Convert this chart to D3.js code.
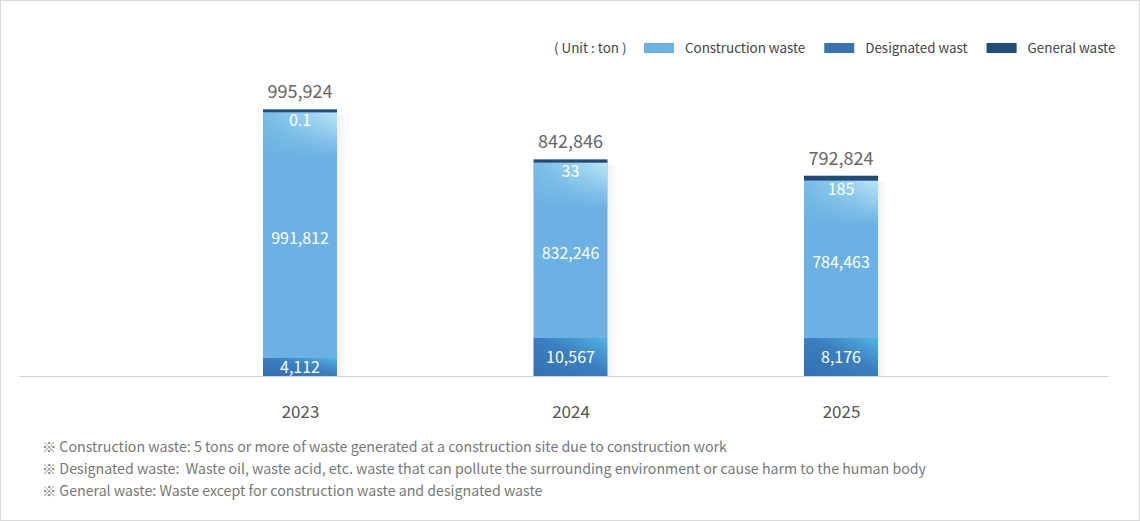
<!DOCTYPE html>
<html>
<head>
<meta charset="utf-8">
<script src="https://cdn.jsdelivr.net/npm/d3@7"></script>
<style>
  body { margin: 0; background: #fff; }
  svg { display: block; font-family: "Noto Sans CJK KR", "Noto Sans", sans-serif; }
  .notes text { white-space: pre; }
</style>
</head>
<body>
<script>
// data (tons)
var years = ["2023", "2024", "2025"];
var construction = [991812, 832246, 784463];
var designated = [4112, 10567, 8176];
var general = [0.1, 33, 185];
var totals = [995924, 842846, 792824];
var legendLabels = ["Construction waste", "Designated wast", "General waste"];
var unitLabel = "( Unit : ton )";
var notes = [
  "※ Construction waste: 5 tons or more of waste generated at a construction site due to construction work",
  "※ Designated waste:  Waste oil, waste acid, etc. waste that can pollute the surrounding environment or cause harm to the human body",
  "※ General waste: Waste except for construction waste and designated waste"
];

var W = 1140, H = 521;
var baseY = 376;
var barW = 74;
var colors = ["#6cb1e3", "#3874b4", "#1f4c7a"];
var fmt = d3.format(",");

var svg = d3.select("body").append("svg")
  .attr("width", W).attr("height", H);

// outer frame
svg.append("rect")
  .attr("x", 0.5).attr("y", 0.5)
  .attr("width", W - 1).attr("height", H - 1)
  .attr("fill", "#fff").attr("stroke", "#d9d9d9");

var defs = svg.append("defs");

// gradients
var gShadow = defs.append("linearGradient").attr("id", "shadow");
gShadow.append("stop").attr("offset", 0).attr("stop-color", "#000").attr("stop-opacity", 0.06);
gShadow.append("stop").attr("offset", 1).attr("stop-color", "#000").attr("stop-opacity", 0);

var gLight = defs.append("linearGradient").attr("id", "light");
gLight.append("stop").attr("offset", 0).attr("stop-color", "#78bbe7");
gLight.append("stop").attr("offset", 0.4).attr("stop-color", "#8ccbed");
gLight.append("stop").attr("offset", 1).attr("stop-color", "#bce6f6");

var gFade = defs.append("linearGradient").attr("id", "fade")
  .attr("x1", 0).attr("y1", 0).attr("x2", 0).attr("y2", 1);
gFade.append("stop").attr("offset", 0).attr("stop-color", "#fff");
gFade.append("stop").attr("offset", 1).attr("stop-color", "#000");

var gDes = defs.append("linearGradient").attr("id", "des")
  .attr("x1", 0).attr("y1", 1).attr("x2", 1).attr("y2", 0);
gDes.append("stop").attr("offset", 0).attr("stop-color", "#3470b0");
gDes.append("stop").attr("offset", 0.55).attr("stop-color", "#3b7fc0");
gDes.append("stop").attr("offset", 1).attr("stop-color", "#52b3e2");

// scales
var x = d3.scalePoint().domain(years).range([300, 841]);
var y = d3.scaleLinear().domain([180000, 1000000]).range([baseY, 108]);
// small segments get a readable height
var dH = d3.scaleLinear().domain([4112, 8176]).range([18, 38]).clamp(true);
var gH = d3.scaleLinear().domain([0, 185]).range([3, 5]);

var data = years.map(function(yr, i) {
  var top = y(totals[i]);
  var gBottom = top + gH(general[i]);
  var dTop = baseY - dH(designated[i]);
  return {year: yr, c: construction[i], d: designated[i], g: general[i], total: totals[i],
          top: top, gBottom: gBottom, dTop: dTop, cx: x(yr)};
});

// baseline
svg.append("line")
  .attr("x1", 20).attr("x2", 1108)
  .attr("y1", baseY + 0.5).attr("y2", baseY + 0.5)
  .attr("stroke", "#cfcfcf");

var bars = svg.selectAll(".bar").data(data).enter()
  .append("g").attr("class", "bar");

// soft shadow right of each bar
bars.append("rect")
  .attr("x", function(d) { return d.cx + barW / 2; })
  .attr("y", function(d) { return d.top + 6; })
  .attr("width", 10)
  .attr("height", function(d) { return baseY - d.top - 6; })
  .attr("fill", "url(#shadow)");

// construction segment
bars.append("rect")
  .attr("x", function(d) { return d.cx - barW / 2; })
  .attr("y", function(d) { return d.gBottom; })
  .attr("width", barW)
  .attr("height", function(d) { return d.dTop - d.gBottom; })
  .attr("fill", colors[0]);

// light sheen at the top of construction segment
bars.each(function(d, i) {
  var m = defs.append("mask").attr("id", "m" + i);
  m.append("rect")
    .attr("x", d.cx - barW / 2).attr("y", d.gBottom)
    .attr("width", barW).attr("height", 45)
    .attr("fill", "url(#fade)");
  d3.select(this).append("rect")
    .attr("x", d.cx - barW / 2).attr("y", d.gBottom)
    .attr("width", barW).attr("height", 45)
    .attr("fill", "url(#light)")
    .attr("mask", "url(#m" + i + ")");
});

// designated segment
bars.append("rect")
  .attr("x", function(d) { return d.cx - barW / 2; })
  .attr("y", function(d) { return d.dTop; })
  .attr("width", barW)
  .attr("height", function(d) { return baseY - d.dTop; })
  .attr("fill", "url(#des)");

// general segment
bars.append("rect")
  .attr("x", function(d) { return d.cx - barW / 2; })
  .attr("y", function(d) { return d.top; })
  .attr("width", barW)
  .attr("height", function(d) { return d.gBottom - d.top; })
  .attr("fill", colors[2]);

// labels
bars.append("text")
  .attr("x", function(d) { return d.cx; })
  .attr("y", function(d) { return d.top - 11; })
  .attr("text-anchor", "middle")
  .attr("font-size", 18).attr("fill", "#666")
  .text(function(d) { return fmt(d.total); });

bars.append("text")
  .attr("x", function(d) { return d.cx; })
  .attr("y", function(d) { return d.gBottom + 14; })
  .attr("text-anchor", "middle")
  .attr("font-size", 16).attr("fill", "#fff")
  .text(function(d) { return fmt(d.g); });

bars.append("text")
  .attr("x", function(d) { return d.cx; })
  .attr("y", function(d) { return (d.gBottom + d.dTop) / 2 + 9; })
  .attr("text-anchor", "middle")
  .attr("font-size", 16).attr("fill", "#fff")
  .text(function(d) { return fmt(d.c); });

bars.append("text")
  .attr("x", function(d) { return d.cx; })
  .attr("y", function(d) { return (d.dTop + baseY) / 2 + 5.5; })
  .attr("text-anchor", "middle")
  .attr("font-size", 16).attr("fill", "#fff")
  .text(function(d) { return fmt(d.d); });

// x axis labels
var xAxis = d3.axisBottom(x).tickSize(0).tickPadding(0);
svg.append("g")
  .attr("transform", "translate(0,404)")
  .call(xAxis)
  .call(function(g) { g.select(".domain").remove(); })
  .selectAll("text")
  .attr("dy", "0.8em")
  .attr("font-family", "\"Noto Sans CJK KR\", sans-serif")
  .attr("font-size", 17)
  .attr("fill", "#555");

// legend
var legend = svg.append("g").attr("font-size", 13.4).attr("fill", "#444");
legend.append("text")
  .attr("x", 554).attr("y", 52.5)
  .text(unitLabel);
var lx = 644;
legendLabels.forEach(function(lab, i) {
  legend.append("rect")
    .attr("x", lx).attr("y", 43)
    .attr("width", 30).attr("height", 10)
    .attr("fill", colors[i]);
  var t = legend.append("text")
    .attr("x", lx + 41).attr("y", 52.5)
    .text(lab);
  lx = lx + 41 + t.node().getComputedTextLength() + 19;
});

// footnotes
svg.append("g")
  .attr("class", "notes")
  .attr("font-size", 14.2).attr("fill", "#777")
  .selectAll("text").data(notes).enter()
  .append("text")
  .attr("x", 42)
  .attr("y", function(d, i) { return 452 + i * 22; })
  .text(function(d) { return d; });
</script>
</body>
</html>
